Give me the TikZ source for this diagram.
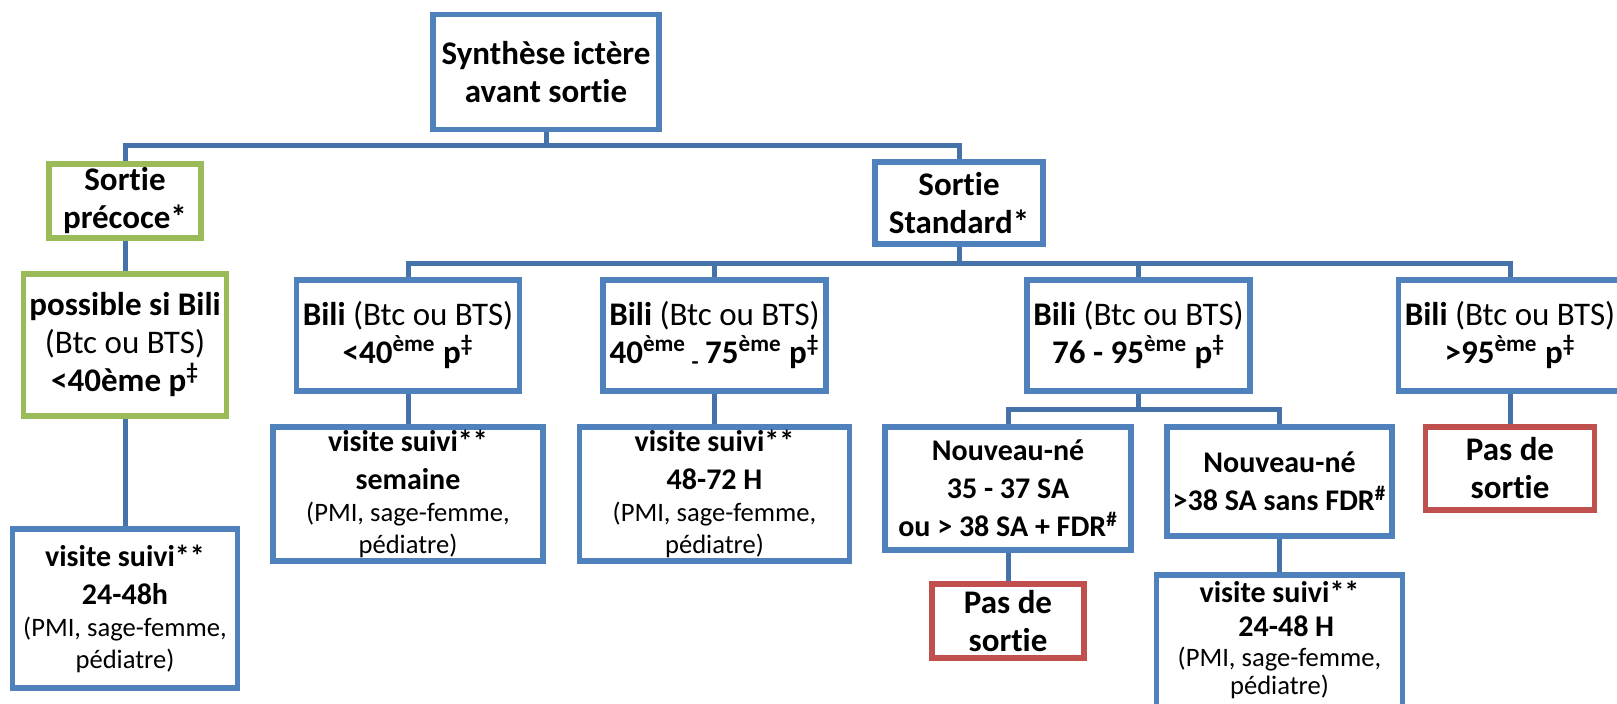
\documentclass[tikz,border=0pt]{standalone}
\usepackage{fontspec}
\setmainfont{Carlito}[Ligatures=NoCommon]
\usepackage{tikz}
\definecolor{boxblue}{HTML}{4F81BD}
\definecolor{boxgreen}{HTML}{9BBB59}
\definecolor{boxred}{HTML}{C0504D}
\definecolor{linkblue}{HTML}{4672AA}
\newcommand{\tbig}{\fontsize{16.5}{19}\selectfont}
\newcommand{\tmid}{\fontsize{15}{19}\selectfont}
\newcommand{\tsmall}{\fontsize{13.3}{16}\selectfont}

\begin{document}
\begin{tikzpicture}[x=0.5pt, y=-0.5pt,
        box/.style = {draw, line width=2.9pt, align=center, inner sep=0pt, font=\tbig\bfseries},
        bluebox/.style = {box, draw=boxblue},
        greenbox/.style = {box, draw=boxgreen},
        redbox/.style = {box, draw=boxred},
        midbox/.style = {bluebox, font=\tmid\bfseries},
        sz/.style 2 args = {minimum width=#1*0.5pt, minimum height=#2*0.5pt},
        conn/.style = {linkblue, line width=2.5pt}]
        \useasboundingbox (0,0) rectangle (1617,703);
        \node[bluebox, sz={226}{115}] (syn) at (546,72) {Synthèse ictère\\avant sortie};
        \node[greenbox, sz={152}{74}] (prec) at (125,201) {Sortie\\précoce*};
        \node[bluebox, sz={168}{82}] (std) at (959,203) {Sortie\\Standard*};
        \node[greenbox, sz={203}{142}] (poss) at (125,345) {possible si Bili\\\textmd{(Btc ou BTS)}\\<40ème p\textsuperscript{‡}};
        \node[bluebox, sz={223}{111}] (biliA) at (408,335.5) {Bili \textmd{(Btc ou BTS)}\\<40\textsuperscript{ème} p\textsuperscript{‡}};
        \node[bluebox, sz={223}{111}] (biliB) at (714.5,335.5) {Bili \textmd{(Btc ou BTS)}\\40\textsuperscript{ème}\,\textsubscript{-}\,75\textsuperscript{ème} p\textsuperscript{‡}};
        \node[bluebox, sz={223}{111}] (biliC) at (1138.5,335.5) {Bili \textmd{(Btc ou BTS)}\\76 - 95\textsuperscript{ème} p\textsuperscript{‡}};
        \node[bluebox, sz={223}{111}] (biliD) at (1510,335.5) {Bili \textmd{(Btc ou BTS)}\\>95\textsuperscript{ème} p\textsuperscript{‡}};
        \node[midbox, sz={270}{134}] (visA) at (408,494) {visite suivi**\\semaine\\[-3pt]{\tsmall\mdseries (PMI, sage-femme,}\\[-3pt]{\tsmall\mdseries pédiatre)}};
        \node[midbox, sz={270}{134}] (visB) at (714.5,494) {visite suivi**\\48-72 H\\[-3pt]{\tsmall\mdseries (PMI, sage-femme,}\\[-3pt]{\tsmall\mdseries pédiatre)}};
        \node[midbox, sz={246}{123}] (nnA) at (1008,488.5) {Nouveau-né\\35 - 37 SA\\ou > 38 SA + FDR\textsuperscript{\#}};
        \node[midbox, sz={225}{109}] (nnB) at (1279.5,481.5) {Nouveau-né\\>38 SA sans FDR\textsuperscript{\#}};
        \node[redbox, sz={169}{83}] (pasD) at (1510,468.5) {Pas de\\sortie};
        \node[midbox, sz={225}{159}] (visP) at (125,608.5) {visite suivi**\\24-48h\\[-3pt]{\tsmall\mdseries (PMI, sage-femme,}\\[-3pt]{\tsmall\mdseries pédiatre)}};
        \node[redbox, sz={152}{74}] (pasA) at (1008,621) {Pas de\\sortie};
        \node[midbox, minimum width=123pt, inner ysep=3pt, anchor=north] (visN) at (1279.5,572) {visite suivi**\\[-2pt]\ \ 24-48 H\\[-4pt]{\tsmall\mdseries (PMI, sage-femme,}\\[-5pt]{\tsmall\mdseries pédiatre)}\\[10pt]};
        \foreach \b in {prec,std} \draw[conn] (syn.south) -- ++(0,13) -| (\b.north);
        \draw[conn] (prec.south) -- (poss.north);
        \draw[conn] (poss.south) -- (visP.north);
        \foreach \b in {biliA,biliB,biliC,biliD} \draw[conn] (std.south) -- ++(0,17) -| (\b.north);
        \draw[conn] (biliA.south) -- (visA.north);
        \draw[conn] (biliB.south) -- (visB.north);
        \foreach \b in {nnA,nnB} \draw[conn] (biliC.south) -- ++(0,16) -| (\b.north);
        \draw[conn] (biliD.south) -- (pasD.north);
        \draw[conn] (nnA.south) -- (pasA.north);
        \draw[conn] (nnB.south) -- (visN.north);
    \end{tikzpicture}
\end{document}
